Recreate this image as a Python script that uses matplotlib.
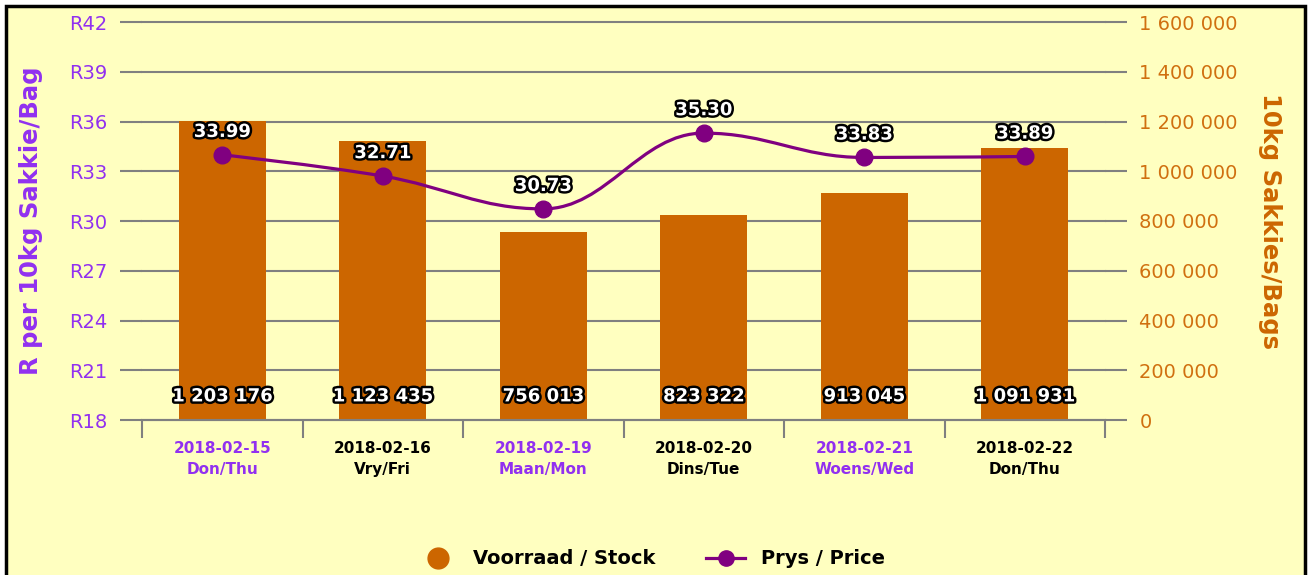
import matplotlib
matplotlib.use('Agg')

import matplotlib.pyplot as plt
import matplotlib.patheffects as pe
from matplotlib.path import Path
from matplotlib.patches import PathPatch, Rectangle
from matplotlib.lines import Line2D
import numpy as np

# data
dates = ['2018-02-15', '2018-02-16', '2018-02-19', '2018-02-20', '2018-02-21', '2018-02-22']
days = ['Don/Thu', 'Vry/Fri', 'Maan/Mon', 'Dins/Tue', 'Woens/Wed', 'Don/Thu']
stock = [1203176, 1123435, 756013, 823322, 913045, 1091931]
price = [33.99, 32.71, 30.73, 35.30, 33.83, 33.89]

price_ticks = [18, 21, 24, 27, 30, 33, 36, 39, 42]
stock_ticks = [0, 200000, 400000, 600000, 800000, 1000000, 1200000, 1400000, 1600000]

BG = '#ffffc0'
ORANGE = '#cc6600'
PURPLE = '#800080'
VIOLET = '#9130f0'
GRID = '#808080'

W, H = 1309, 575


def fmt_space(v):
    return f'{v:,}'.replace(',', ' ')


def spline_path(xs, ys, smoothing=1.5):
    # highcharts style spline, bezier control points from neighbours
    n = len(xs)
    lc = [(x, y) for x, y in zip(xs, ys)]
    rc = [(x, y) for x, y in zip(xs, ys)]
    for i in range(1, n - 1):
        px, py = xs[i], ys[i]
        lx, ly = xs[i - 1], ys[i - 1]
        nx, ny = xs[i + 1], ys[i + 1]
        lcx = (smoothing * px + lx) / (smoothing + 1)
        lcy = (smoothing * py + ly) / (smoothing + 1)
        rcx = (smoothing * px + nx) / (smoothing + 1)
        rcy = (smoothing * py + ny) / (smoothing + 1)
        corr = ((rcy - lcy) * (rcx - px)) / (rcx - lcx) + py - rcy
        lcy += corr
        rcy += corr
        if lcy > ly and lcy > py:
            lcy = max(ly, py)
            rcy = 2 * py - lcy
        elif lcy < ly and lcy < py:
            lcy = min(ly, py)
            rcy = 2 * py - lcy
        if rcy > ny and rcy > py:
            rcy = max(ny, py)
            lcy = 2 * py - rcy
        elif rcy < ny and rcy < py:
            rcy = min(ny, py)
            lcy = 2 * py - rcy
        lc[i] = (lcx, lcy)
        rc[i] = (rcx, rcy)
    verts = [(xs[0], ys[0])]
    codes = [Path.MOVETO]
    for i in range(1, n):
        verts += [rc[i - 1], lc[i], (xs[i], ys[i])]
        codes += [Path.CURVE4] * 3
    return Path(verts, codes)


fig = plt.figure(figsize=(W / 100, H / 100), dpi=100, facecolor='white')
fig.add_artist(Rectangle((6 / W, -0.05), (1305 - 6) / W, 1 - 6 / H + 0.05,
                         transform=fig.transFigure, facecolor=BG,
                         edgecolor='black', linewidth=2.5, zorder=-10))

ax = fig.add_axes([142 / W, 1 - 420 / H, (1105 - 142) / W, (420 - 22) / H])
ax.set_facecolor('none')
ax2 = ax.twinx()
x = np.arange(len(dates))

# bars (stock) on the main axes, scale shown on the right
ax.bar(x, stock, width=0.54, color=ORANGE, zorder=2)
ax.set_ylim(0, 1600000)
ax.set_xlim(-0.5, len(dates) - 0.5)
ax.set_yticks(stock_ticks)
ax.set_yticklabels([fmt_space(v) for v in stock_ticks])
ax.yaxis.tick_right()
ax.tick_params(axis='y', length=15.8, width=1.5, color=GRID, pad=9,
               labelsize=14, labelcolor='#d07010')
ax.grid(axis='y', color=GRID, linewidth=1.5, zorder=0)
for gl in ax.get_ygridlines():
    gl.set_clip_on(False)
ax.set_axisbelow(True)
for s in ['top', 'left', 'right']:
    ax.spines[s].set_visible(False)
ax.spines['bottom'].set_color(GRID)
ax.spines['bottom'].set_linewidth(1.5)

ax.set_xticks(x)
ax.set_xticklabels([f'{d}\n{w}' for d, w in zip(dates, days)])
ax.set_xticks(np.arange(-0.5, len(dates)), minor=True)
ax.tick_params(axis='x', which='major', length=0, pad=15, labelsize=11)
ax.tick_params(axis='x', which='minor', length=13, width=1.5, color=GRID)
for i, lab in enumerate(ax.get_xticklabels()):
    lab.set_fontweight('bold')
    lab.set_linespacing(1.5)
    lab.set_color(VIOLET if i % 2 == 0 else 'black')

stroke = [pe.withStroke(linewidth=3.5, foreground='black')]
for xi, v in zip(x, stock):
    ax.annotate(fmt_space(v), (xi, 0), xytext=(0, 17), textcoords='offset points',
                ha='center', va='center', color='white', fontsize=13,
                fontweight='bold', path_effects=stroke, zorder=5)

# price line on the twin axes, scale shown on the left
ax2.set_ylim(18, 42)
ax2.set_yticks(price_ticks)
ax2.set_yticklabels([f'R{v}' for v in price_ticks])
ax2.yaxis.tick_left()
ax2.tick_params(axis='y', length=15.8, width=1.5, color=GRID, pad=9,
                labelsize=14, labelcolor=VIOLET)
for s in ax2.spines.values():
    s.set_visible(False)

ax2.add_patch(PathPatch(spline_path(list(x), price), facecolor='none',
                        edgecolor=PURPLE, linewidth=2.3, zorder=3))
ax2.plot(x, price, 'o', color=PURPLE, markersize=12, zorder=4)
for xi, v in zip(x, price):
    ax2.annotate(f'{v:.2f}', (xi, v), xytext=(0, 16.5), textcoords='offset points',
                 ha='center', va='center', color='white', fontsize=13,
                 fontweight='bold', path_effects=stroke, zorder=5)

fig.text(31 / W, 1 - 221 / H, 'R per 10kg Sakkie/Bag', rotation=90,
         ha='center', va='center', fontsize=17.5, fontweight='bold', color=VIOLET)
fig.text(1270 / W, 1 - 221 / H, '10kg Sakkies/Bags', rotation=-90,
         ha='center', va='center', fontsize=17.5, fontweight='bold', color=ORANGE)

handles = [Line2D([], [], linestyle='none', marker='o', markersize=15, color=ORANGE),
           Line2D([], [], color=PURPLE, linewidth=2.3, marker='o', markersize=11)]
fig.legend(handles, ['Voorraad / Stock', 'Prys / Price'], loc='center',
           bbox_to_anchor=(0.498, 1 - 559 / H), ncol=2, frameon=False,
           prop={'size': 14, 'weight': 'bold'}, columnspacing=2.6,
           handletextpad=0.8, handlelength=2.0)

fig.savefig('out.png', dpi=100, facecolor='white')
